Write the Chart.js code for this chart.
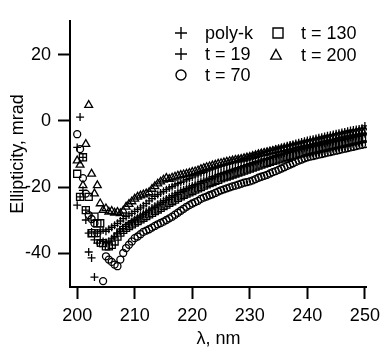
<!DOCTYPE html>
<html>
<head>
<meta charset="utf-8">
<script src="https://cdn.jsdelivr.net/npm/chart.js@4.4.1/dist/chart.umd.min.js"></script>
<style>
  html, body { margin: 0; padding: 0; background: #fff; }
  #wrap { width: 386px; height: 350px; }
</style>
</head>
<body>
<div id="wrap"><canvas id="cd" width="386" height="350"></canvas></div>
<script>
// comprimento de onda (nm), passo de 0.5
const wavelengths = [
  200, 200.5, 201, 201.5, 202, 202.5, 203, 203.5, 204, 204.5,
  205, 205.5, 206, 206.5, 207, 207.5, 208, 208.5, 209, 209.5,
  210, 210.5, 211, 211.5, 212, 212.5, 213, 213.5, 214, 214.5,
  215, 215.5, 216, 216.5, 217, 217.5, 218, 218.5, 219, 219.5,
  220, 220.5, 221, 221.5, 222, 222.5, 223, 223.5, 224, 224.5,
  225, 225.5, 226, 226.5, 227, 227.5, 228, 228.5, 229, 229.5,
  230, 230.5, 231, 231.5, 232, 232.5, 233, 233.5, 234, 234.5,
  235, 235.5, 236, 236.5, 237, 237.5, 238, 238.5, 239, 239.5,
  240, 240.5, 241, 241.5, 242, 242.5, 243, 243.5, 244, 244.5,
  245, 245.5, 246, 246.5, 247, 247.5, 248, 248.5, 249, 249.5,
  250
];

// elipticidade (mrad) de cada amostra
const polyK = [
  -25.5, -23, -11, -27, -39.7, -33.6, -36, -34, -33.5, -33,
  -33.4, -32.8, -32.2, -31.6, -31, -30.3, -29.6, -29, -28.5, -28,
  -27.4, -26.8, -26.3, -25.7, -25, -24.2, -23.5, -22.8, -22.3, -21.8,
  -21.3, -20.8, -20.3, -19.9, -19.4, -19, -18.6, -18.2, -17.8, -17.4,
  -17, -16.6, -16.3, -15.9, -15.6, -15.2, -14.9, -14.6, -14.3, -14,
  -13.7, -13.4, -13.1, -12.8, -12.5, -12.3, -12, -11.7, -11.4, -11.2,
  -10.9, -10.6, -10.3, -10.1, -9.8, -9.5, -9.3, -9, -8.8, -8.5,
  -8.3, -8, -7.8, -7.5, -7.3, -7.1, -6.8, -6.6, -6.4, -6.1,
  -5.9, -5.7, -5.5, -5.3, -5.1, -4.9, -4.7, -4.5, -4.3, -4.1,
  -3.9, -3.7, -3.5, -3.3, -3.1, -2.9, -2.7, -2.6, -2.4, -2.2,
  -1.5
];
const t19 = [
  -8, 1.2, -21, -30, -34, -41.5, -47.3, -37, -36, -36.5,
  -36.8, -36.4, -35.7, -35, -34.2, -33.4, -32.6, -31.9, -31.2, -30.6,
  -30, -29.4, -28.8, -28.2, -27.6, -27, -26.4, -25.8, -25.2, -24.6,
  -24.1, -23.6, -23.1, -22.6, -22.1, -21.6, -21.2, -20.8, -20.4, -20,
  -19.6, -19.2, -18.8, -18.4, -18, -17.6, -17.3, -16.9, -16.6, -16.2,
  -15.9, -15.6, -15.3, -15, -14.7, -14.4, -14.1, -13.8, -13.5, -13.2,
  -12.9, -12.6, -12.3, -12.1, -11.8, -11.5, -11.3, -11, -10.7, -10.5,
  -10.2, -10, -9.7, -9.5, -9.3, -9, -8.8, -8.6, -8.3, -8.1,
  -7.9, -7.7, -7.5, -7.3, -7.1, -6.9, -6.7, -6.5, -6.3, -6.1,
  -5.9, -5.7, -5.5, -5.3, -5.1, -4.9, -4.7, -4.5, -4.3, -4.1,
  -3.9
];
const t70 = [
  -4, -8.5, -17.3, -22, -28.5, -29.7, -31, -34, -37, -48.5,
  -41, -42, -42.7, -43.5, -44, -42, -40, -38.5, -37.5, -36.5,
  -35.5, -35, -34.3, -33.6, -33.2, -32.8, -32.3, -31.8, -31.3, -30.9,
  -30.5, -30, -29.5, -29, -28.4, -27.8, -27.2, -26.6, -26, -25.5,
  -25, -24.6, -24.2, -23.6, -23.2, -22.9, -22.5, -22.2, -21.8, -21.4,
  -21, -20.7, -20.4, -20.1, -19.8, -19.6, -19.3, -19, -18.7, -18.5,
  -18.3, -18, -17.6, -17.2, -16.9, -16.6, -16.3, -15.9, -15.5, -15.2,
  -14.8, -14.4, -14, -13.6, -13.2, -12.8, -12.4, -12, -11.7, -11.3,
  -11, -10.8, -10.6, -10.4, -10.2, -10, -9.8, -9.6, -9.4, -9.2,
  -9, -8.8, -8.6, -8.4, -8.2, -8, -7.8, -7.6, -7.4, -7.2,
  -7
];
const t130 = [
  -16, -23, -11, -27, -23, -34, -29, -31, -31, -37,
  -38, -38, -37.5, -36.5, -35, -33.8, -33, -32.4, -31.8, -31.3,
  -30.8, -30.3, -29.8, -29.3, -28.8, -28.3, -27.8, -27.3, -26.8, -26.3,
  -25.8, -25.3, -24.8, -24.3, -23.8, -23.3, -22.8, -22.4, -22, -21.6,
  -21.2, -20.8, -20.4, -20, -19.6, -19.2, -18.8, -18.5, -18.1, -17.8,
  -17.4, -17.1, -16.8, -16.5, -16.2, -15.9, -15.6, -15.3, -15, -14.7,
  -14.4, -14.1, -13.8, -13.5, -13.2, -12.9, -12.7, -12.4, -12.1, -11.9,
  -11.6, -11.4, -11.1, -10.9, -10.6, -10.4, -10.2, -9.9, -9.7, -9.5,
  -9.3, -9.1, -8.9, -8.7, -8.5, -8.3, -8.1, -7.9, -7.7, -7.5,
  -7.3, -7.1, -6.9, -6.7, -6.5, -6.3, -6.1, -5.9, -5.7, -5.5,
  -5.3
];
const t200 = [
  -12, -13.3, -19.5, -7, 4.8, -16, -22, -19.5, -25, -27,
  -26.5, -27.5, -27.3, -27.8, -27.6, -28, -27.2, -26, -25.2, -24.4,
  -23.6, -23, -22.6, -22.3, -22, -21.6, -20.6, -19.8, -19, -18.4,
  -17.8, -17.3, -17.6, -17.2, -16.9, -16.6, -16.4, -16.2, -16, -15.8,
  -15.5, -15.3, -15, -14.6, -14.3, -14, -13.8, -13.5, -13.3, -13,
  -12.8, -12.6, -12.4, -12.2, -12, -11.8, -11.7, -11.5, -11.3, -11.1,
  -10.9, -10.6, -10.4, -10.1, -9.9, -9.7, -9.5, -9.3, -9.1, -8.9,
  -8.7, -8.5, -8.3, -8.1, -7.9, -7.7, -7.5, -7.3, -7.1, -6.9,
  -6.7, -6.5, -6.3, -6.1, -5.9, -5.7, -5.5, -5.3, -5.1, -4.9,
  -4.7, -4.5, -4.3, -4.1, -3.9, -3.8, -3.6, -3.4, -3.3, -3.1,
  -3
];

const seriesLabels = ['poly-k', 't = 19', 't = 70', 't = 130', 't = 200'];
const xTicks = [200, 210, 220, 230, 240, 250];
const yTicks = [-40, -20, 0, 20];

const FONT = '"Liberation Sans", Arial, sans-serif';

// marcador e tamanho de cada serie
const markers = [
  { style: 'cross', r: 4, lr: 6 },
  { style: 'cross', r: 4, lr: 6 },
  { style: 'circle', r: 3.5, lr: 5 },
  { style: 'rect', r: 5, lr: 5 },
  { style: 'triangle', r: 4.5, lr: 5.5 }
];
// posicao da legenda (duas colunas)
const legendSlots = [
  { mx: 181, my: 33, tx: 205 },
  { mx: 181, my: 54, tx: 205 },
  { mx: 181, my: 75, tx: 205 },
  { mx: 278, my: 33, tx: 301 },
  { mx: 276, my: 55, tx: 301 }
];

function pontos(valores) {
  return valores.map((v, i) => ({ x: wavelengths[i], y: v }));
}

const allSeries = [polyK, t19, t70, t130, t200];

const datasets = allSeries.map((serie, i) => ({
  label: seriesLabels[i],
  data: pontos(serie),
  showLine: false,
  pointStyle: markers[i].style,
  pointRadius: markers[i].r,
  pointHoverRadius: markers[i].r,
  pointBorderColor: '#000',
  pointBackgroundColor: 'rgba(0,0,0,0)',
  pointBorderWidth: 1.3
}));

function desenharMarcador(ctx, style, x, y, r) {
  ctx.beginPath();
  if (style === 'cross') {
    ctx.moveTo(x - r, y); ctx.lineTo(x + r, y);
    ctx.moveTo(x, y - r); ctx.lineTo(x, y + r);
  } else if (style === 'circle') {
    ctx.arc(x, y, r, 0, Math.PI * 2);
  } else if (style === 'rect') {
    ctx.rect(x - r, y - r, 2 * r, 2 * r);
  } else if (style === 'triangle') {
    ctx.moveTo(x, y - r);
    ctx.lineTo(x + r * 0.95, y + r * 0.75);
    ctx.lineTo(x - r * 0.95, y + r * 0.75);
    ctx.closePath();
  }
  ctx.stroke();
}

const legendaPlugin = {
  id: 'legendaManual',
  afterDraw(chart) {
    const ctx = chart.ctx;
    ctx.save();
    ctx.strokeStyle = '#000';
    ctx.fillStyle = '#000';
    ctx.lineWidth = 1.4;
    ctx.font = '18px ' + FONT;
    ctx.textBaseline = 'middle';
    ctx.textAlign = 'left';
    legendSlots.forEach((s, i) => {
      desenharMarcador(ctx, markers[i].style, s.mx, s.my, markers[i].lr);
      ctx.fillText(seriesLabels[i], s.tx, s.my + 1);
    });
    ctx.restore();
  }
};

new Chart(document.getElementById('cd'), {
  type: 'scatter',
  data: { datasets },
  plugins: [legendaPlugin],
  options: {
    responsive: false,
    animation: false,
    events: [],
    layout: { padding: { left: 0, right: 14, top: 21, bottom: 0 } },
    plugins: { legend: { display: false }, tooltip: { enabled: false } },
    scales: {
      x: {
        type: 'linear',
        min: 198.75,
        max: 250.35,
        afterBuildTicks: s => { s.ticks = xTicks.map(v => ({ value: v })); },
        afterFit: s => { s.height = 63; },
        grid: { drawOnChartArea: false, drawTicks: true, tickLength: 12, tickWidth: 2, tickColor: '#000' },
        border: { display: true, color: '#000', width: 2 },
        ticks: { color: '#000', font: { family: FONT, size: 18 }, padding: 6, maxRotation: 0, autoSkip: false, callback: v => String(v) },
        title: { display: true, text: 'λ, nm', color: '#000', font: { family: FONT, size: 18 }, padding: { top: 0, bottom: 0 } }
      },
      y: {
        type: 'linear',
        min: -50.3,
        max: 30.3,
        afterBuildTicks: s => { s.ticks = yTicks.map(v => ({ value: v })); },
        afterFit: s => { s.width = 70; },
        grid: { drawOnChartArea: false, drawTicks: true, tickLength: 12, tickWidth: 2, tickColor: '#000' },
        border: { display: true, color: '#000', width: 2 },
        ticks: { color: '#000', font: { family: FONT, size: 18 }, padding: 7, autoSkip: false, callback: v => String(v) },
        title: { display: true, text: 'Ellipticity, mrad', color: '#000', font: { family: FONT, size: 18 }, padding: { top: 7, bottom: 0 } }
      }
    }
  }
});
</script>
</body>
</html>
